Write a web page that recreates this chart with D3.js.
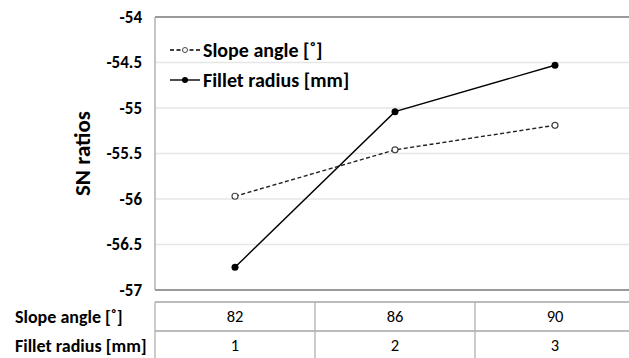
<!DOCTYPE html>
<html>
<head>
<meta charset="utf-8">
<script src="https://cdn.jsdelivr.net/npm/d3@7"></script>
<style>
  body { margin: 0; background: #fff; }
  text { font-family: Carlito, Lato, "Open Sans", sans-serif; }
</style>
</head>
<body>
<svg id="chart" width="629" height="358"></svg>
<script>
// SN ratio main effects chart

var levels = [1, 2, 3];
var slopeAngles = ["82", "86", "90"];
var filletRadii = ["1", "2", "3"];
var slopeSN = [-55.97, -55.46, -55.19];
var filletSN = [-56.75, -55.04, -54.53];
var yTicks = [-54, -54.5, -55, -55.5, -56, -56.5, -57];
var seriesNames = ["Slope angle [˚]", "Fillet radius [mm]"];

var svg = d3.select("#chart"),
    margin = {top: 17, right: -6, bottom: 68, left: 155},
    width = +svg.attr("width") - margin.left - margin.right,
    height = +svg.attr("height") - margin.top - margin.bottom,
    g = svg.append("g").attr("transform", "translate(" + margin.left + "," + margin.top + ")");

var x = d3.scaleBand()
    .domain(levels)
    .range([0, width]);

var y = d3.scaleLinear()
    .domain([-57, -54])
    .range([height, 0]);

// gridlines
g.append("g")
  .selectAll("line")
  .data(yTicks.slice(1, -1))
  .enter().append("line")
    .attr("x1", 0)
    .attr("x2", width)
    .attr("y1", function(d) { return y(d); })
    .attr("y2", function(d) { return y(d); })
    .attr("stroke", "#e6e6e6")
    .attr("stroke-width", 1.3);

// y axis labels (plain hyphen like the original)
var yAxis = g.append("g")
    .call(d3.axisLeft(y).tickValues(yTicks).tickSize(0).tickPadding(13)
      .tickFormat(function(d) { return String(d); }));
yAxis.select(".domain").remove();
yAxis.selectAll("text")
    .attr("font-size", 17)
    .attr("font-weight", "bold")
    .attr("fill", "#000")
    .style("font-family", "Carlito, Lato, 'Open Sans', sans-serif");

// plot frame
g.append("line").attr("x1", 0).attr("x2", width).attr("y1", 0).attr("y2", 0)
    .attr("stroke", "#9a9a9a").attr("stroke-width", 2);
g.append("line").attr("x1", 0).attr("x2", 0).attr("y1", 0).attr("y2", height)
    .attr("stroke", "#a6a6a6").attr("stroke-width", 1.3);
g.append("line").attr("x1", 0).attr("x2", width).attr("y1", height).attr("y2", height)
    .attr("stroke", "#9a9a9a").attr("stroke-width", 2);

svg.append("text")
    .attr("transform", "translate(90," + (margin.top + height / 2) + ") rotate(-90)")
    .attr("text-anchor", "middle")
    .attr("font-size", 23)
    .attr("font-weight", "bold")
    .text("SN ratios");

var line = d3.line()
    .x(function(d, i) { return x(levels[i]) + x.bandwidth() / 2; })
    .y(function(d) { return y(d); });

g.append("path")
    .datum(slopeSN)
    .attr("d", line)
    .attr("fill", "none")
    .attr("stroke", "#222")
    .attr("stroke-width", 1.4)
    .attr("stroke-dasharray", "4,2.5");

g.append("path")
    .datum(filletSN)
    .attr("d", line)
    .attr("fill", "none")
    .attr("stroke", "#000")
    .attr("stroke-width", 1.4);

g.selectAll(".slopePt")
    .data(slopeSN)
    .enter().append("circle")
      .attr("class", "slopePt")
      .attr("cx", function(d, i) { return x(levels[i]) + x.bandwidth() / 2; })
      .attr("cy", function(d) { return y(d); })
      .attr("r", 3)
      .attr("fill", "#fff")
      .attr("stroke", "#444")
      .attr("stroke-width", 1.2);

g.selectAll(".filletPt")
    .data(filletSN)
    .enter().append("circle")
      .attr("class", "filletPt")
      .attr("cx", function(d, i) { return x(levels[i]) + x.bandwidth() / 2; })
      .attr("cy", function(d) { return y(d); })
      .attr("r", 3.5)
      .attr("fill", "#000");

// legend
var legend = g.append("g")
    .selectAll("g")
    .data(seriesNames)
    .enter().append("g")
      .attr("transform", function(d, i) { return "translate(15," + (33 + i * 30) + ")"; });

legend.append("line")
    .attr("x1", 0).attr("x2", 30)
    .attr("stroke", "#000")
    .attr("stroke-width", 1.4)
    .attr("stroke-dasharray", function(d, i) { return i == 0 ? "4,2.5" : null; });

legend.append("circle")
    .attr("cx", 15)
    .attr("r", function(d, i) { return i == 0 ? 2.5 : 3; })
    .attr("fill", function(d, i) { return i == 0 ? "#fff" : "#000"; })
    .attr("stroke", function(d, i) { return i == 0 ? "#444" : null; });

legend.append("text")
    .attr("x", 33)
    .attr("dy", "0.35em")
    .attr("font-size", 20)
    .attr("font-weight", "bold")
    .text(function(d) { return d; });

// data table below
var rows = [slopeAngles, filletRadii];
var tableTop = margin.top + height + 12, rowH = 29;
var tbl = svg.append("g").attr("transform", "translate(" + margin.left + "," + tableTop + ")");

tbl.append("line").attr("x1", 0).attr("x2", width).attr("y1", 0).attr("y2", 0)
    .attr("stroke", "#a6a6a6").attr("stroke-width", 1.3);
tbl.append("line").attr("x1", 0).attr("x2", width).attr("y1", rowH).attr("y2", rowH)
    .attr("stroke", "#a6a6a6").attr("stroke-width", 1.3);
tbl.selectAll(".vline")
    .data(levels)
    .enter().append("line")
      .attr("class", "vline")
      .attr("x1", function(d) { return x(d); })
      .attr("x2", function(d) { return x(d); })
      .attr("y1", 0).attr("y2", 2 * rowH + 10)
      .attr("stroke", "#b0b0b0").attr("stroke-width", 1.3);

rows.forEach(function(r, ri) {
  tbl.append("text")
      .attr("x", 15 - margin.left)
      .attr("y", ri * rowH + rowH / 2)
      .attr("dy", "0.35em")
      .attr("text-anchor", "start")
      .attr("font-size", 18)
      .attr("font-weight", "bold")
      .text(seriesNames[ri]);
  tbl.selectAll(".cell" + ri)
      .data(r)
      .enter().append("text")
        .attr("x", function(d, i) { return x(levels[i]) + x.bandwidth() / 2; })
        .attr("y", ri * rowH + rowH / 2)
        .attr("dy", "0.35em")
        .attr("text-anchor", "middle")
        .attr("font-size", 16.5)
        .text(function(d) { return d; });
});
</script>
</body>
</html>
